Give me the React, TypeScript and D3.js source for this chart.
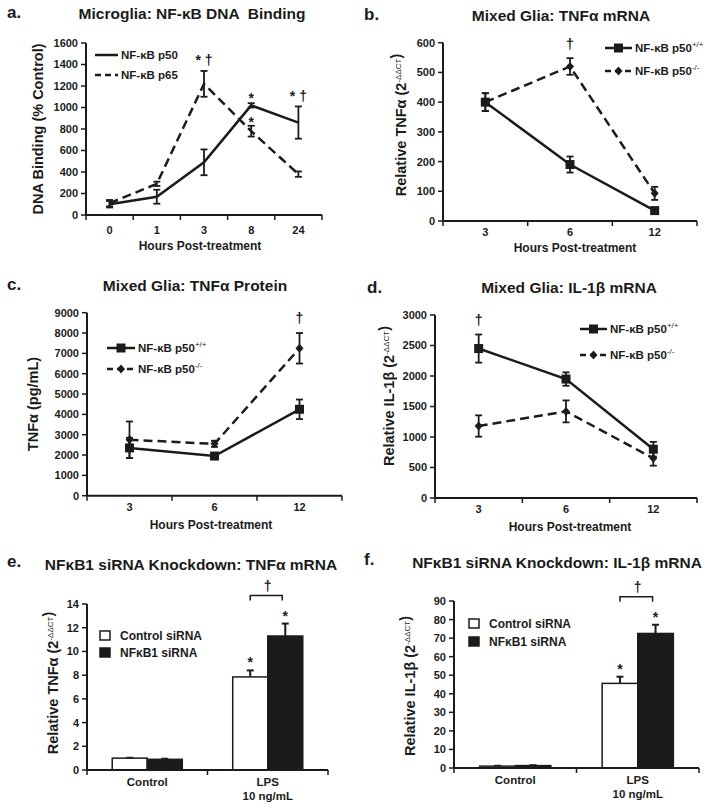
import React from "react";
import * as d3 from "d3";

const INK = "#1b1b1b";
const FONT = "'Liberation Sans', Arial, Helvetica, sans-serif";

// a. microglia NF-kB DNA binding (% control)
const hoursA = ["0", "1", "3", "8", "24"];
const p50Binding = [100, 170, 490, 1020, 860];
const p50BindingErr = [30, 65, 120, 20, 150];
const p65Binding = [110, 290, 1220, 780, 380];
const p65BindingErr = [30, 20, 120, 50, 25];

// b-d. mixed glia, p50+/+ vs p50-/-
const hoursB = ["3", "6", "12"];
const tnfMrnaWT = [400, 190, 35];
const tnfMrnaWTErr = [30, 27, 5];
const tnfMrnaKO = [400, 520, 93];
const tnfMrnaKOErr = [30, 28, 22];

const tnfProtWT = [2350, 1950, 4250];
const tnfProtWTErr = [500, 100, 480];
const tnfProtKO = [2750, 2550, 7250];
const tnfProtKOErr = [900, 150, 750];

const il1bWT = [2450, 1950, 800];
const il1bWTErr = [230, 110, 120];
const il1bKO = [1180, 1420, 650];
const il1bKOErr = [175, 180, 120];

// e-f. siRNA knockdown
const treatments = ["Control", "LPS"];
const siGroups = ["Control siRNA", "NFκB1 siRNA"];
const tnfSiCtrl = [1.0, 7.85];
const tnfSiCtrlErr = [0.03, 0.55];
const tnfSiKd = [0.9, 11.3];
const tnfSiKdErr = [0.05, 1.05];
const il1bSiCtrl = [1.0, 45.6];
const il1bSiCtrlErr = [0.2, 3.6];
const il1bSiKd = [1.3, 72.5];
const il1bSiKdErr = [0.2, 4.7];

const sup = (s) => (
  <>
    <tspan dy={-5} fontSize={8} fontWeight="normal">{s}</tspan>
    <tspan dy={5}>{""}</tspan>
  </>
);

function Marker({ kind, cx, cy }) {
  if (kind === "square") return <rect x={cx - 4.5} y={cy - 4.5} width={9} height={9} fill={INK} />;
  if (kind === "diamond")
    return <path d={`M${cx},${cy - 4.5}L${cx + 4},${cy}L${cx},${cy + 4.5}L${cx - 4},${cy}Z`} fill={INK} />;
  return null;
}

function YAxis({ y, x, step }) {
  const [lo, hi] = y.domain();
  const ticks = d3.range(lo, hi + step / 2, step);
  return (
    <g>
      <line x1={x} x2={x} y1={y(lo)} y2={y(hi)} stroke={INK} strokeWidth={2} />
      {ticks.map((t) => (
        <g key={t}>
          <line x1={x - 5} x2={x} y1={y(t)} y2={y(t)} stroke={INK} strokeWidth={1.5} />
          <text x={x - 8} y={y(t)} dy="0.36em" textAnchor="end" fontSize={11} fontWeight="bold">{t}</text>
        </g>
      ))}
    </g>
  );
}

function Heading({ p }) {
  return (
    <g>
      <text x={p.letterX} y={p.letterY} fontSize={17} fontWeight="bold">{p.letter}</text>
      <text x={p.titleX} y={p.titleY} fontSize={15.5} fontWeight="bold" textAnchor="middle" style={{ whiteSpace: "pre" }}>{p.title}</text>
      <text transform={`translate(${p.labelX},${p.labelY}) rotate(-90)`} textAnchor="middle" dy="0.35em" fontSize={14.5} fontWeight="bold">{p.yLabel}</text>
    </g>
  );
}

function LinePanel({ p }) {
  const x = d3.scaleBand().domain(p.cats).range([p.left, p.right]);
  const y = d3.scaleLinear().domain([0, p.yMax]).range([p.bottom, p.top]);
  const cx = (c) => x(c) + x.bandwidth() / 2;
  const line = d3.line().x((d) => cx(d[0])).y((d) => y(d[1]));
  const bounds = [...p.cats.map((c) => x(c)), p.right];
  return (
    <g>
      <Heading p={p} />
      <YAxis y={y} x={p.left} step={p.yStep} />
      <line x1={p.left} x2={p.right} y1={p.bottom} y2={p.bottom} stroke={INK} strokeWidth={2} />
      {bounds.map((b, i) => (
        <line key={i} x1={b} x2={b} y1={p.bottom} y2={p.bottom + 5} stroke={INK} strokeWidth={1.5} />
      ))}
      {p.cats.map((c) => (
        <text key={c} x={cx(c)} y={p.tickY} textAnchor="middle" fontSize={11} fontWeight="bold">{c}</text>
      ))}
      <text x={p.xTitleX} y={p.xTitleY} textAnchor="middle" fontSize={12} fontWeight="bold">Hours Post-treatment</text>
      {p.series.map((s, k) => (
        <g key={k}>
          <path d={line(p.cats.map((c, i) => [c, s.values[i]]))} fill="none" stroke={INK} strokeWidth={2.5}
            strokeDasharray={s.dashed ? "9,5" : null} />
          {p.cats.map((c, i) => {
            const top = y(s.values[i] + s.errs[i]);
            const bot = y(s.values[i] - s.errs[i]);
            return (
              <g key={c} stroke={INK} strokeWidth={1.8}>
                <line x1={cx(c)} x2={cx(c)} y1={top} y2={bot} />
                <line x1={cx(c) - 3.5} x2={cx(c) + 3.5} y1={top} y2={top} />
                <line x1={cx(c) - 3.5} x2={cx(c) + 3.5} y1={bot} y2={bot} />
              </g>
            );
          })}
          {p.cats.map((c, i) => <Marker key={c} kind={s.marker} cx={cx(c)} cy={y(s.values[i])} />)}
        </g>
      ))}
      {p.series.map((s, k) => {
        const ly = p.legY + k * p.legGap;
        return (
          <g key={k}>
            <line x1={p.legX} x2={p.legX + p.legLen} y1={ly} y2={ly} stroke={INK} strokeWidth={2.5}
              strokeDasharray={s.dashed ? "6,4" : null} />
            <Marker kind={s.marker} cx={p.legX + p.legLen / 2} cy={ly} />
            <text x={p.legX + p.legLen + 3} y={ly + 4} fontSize={11.5} fontWeight="bold">
              {s.label}{s.sup ? sup(s.sup) : null}
            </text>
          </g>
        );
      })}
      {p.notes.map((n, j) => {
        const s = p.series[n.s];
        return (
          <text key={j} x={cx(p.cats[n.i])} y={y(s.values[n.i] + s.errs[n.i]) + n.dy} textAnchor="middle"
            fontSize={14} fontWeight="bold" style={{ whiteSpace: "pre" }}>{n.text}</text>
        );
      })}
    </g>
  );
}

function BarPanel({ p }) {
  const x = d3.scaleBand().domain(treatments).range([p.left, p.right]);
  const inner = d3.scaleBand().domain(siGroups).range([0, x.bandwidth()]).paddingOuter(0.72);
  const y = d3.scaleLinear().domain([0, p.yMax]).range([p.bottom, p.top]);
  const groups = [
    { vals: p.ctrl, errs: p.ctrlErr, fill: "#fff" },
    { vals: p.kd, errs: p.kdErr, fill: INK },
  ];
  const bx = (gi, ti) => x(treatments[ti]) + inner(siGroups[gi]);
  const mid = (gi, ti) => bx(gi, ti) + inner.bandwidth() / 2;
  const last = treatments.length - 1;
  const bracketY = y(p.kd[last] + p.kdErr[last]) - 28;
  return (
    <g>
      <Heading p={p} />
      {groups.map((g, gi) =>
        treatments.map((t, ti) => {
          const tp = y(g.vals[ti] + g.errs[ti]);
          return (
            <g key={gi + t}>
              <line x1={mid(gi, ti)} x2={mid(gi, ti)} y1={y(g.vals[ti])} y2={tp} stroke={INK} strokeWidth={2} />
              <line x1={mid(gi, ti) - 3.5} x2={mid(gi, ti) + 3.5} y1={tp} y2={tp} stroke={INK} strokeWidth={2} />
              <rect x={bx(gi, ti)} y={y(g.vals[ti])} width={inner.bandwidth()} height={p.bottom - y(g.vals[ti])}
                fill={g.fill} stroke={INK} strokeWidth={1.5} />
            </g>
          );
        })
      )}
      <YAxis y={y} x={p.left} step={p.yStep} />
      <line x1={p.left} x2={p.right} y1={p.bottom} y2={p.bottom} stroke={INK} strokeWidth={2} />
      {[...treatments.map((t) => x(t)), p.right].map((b, i) => (
        <line key={i} x1={b} x2={b} y1={p.bottom} y2={p.bottom + 5} stroke={INK} strokeWidth={1.5} />
      ))}
      <text x={x("Control") + x.bandwidth() / 2} y={p.tickY} textAnchor="middle" fontSize={11.5} fontWeight="bold">Control</text>
      <text x={x("LPS") + x.bandwidth() / 2} y={p.tickY} textAnchor="middle" fontSize={11.5} fontWeight="bold">LPS</text>
      <text x={x("LPS") + x.bandwidth() / 2} y={p.tickY + 14} textAnchor="middle" fontSize={11.5} fontWeight="bold">10 ng/mL</text>
      {groups.map((g, gi) => (
        <text key={gi} x={mid(gi, last)} y={y(g.vals[last] + g.errs[last]) - 3} textAnchor="middle" fontSize={14} fontWeight="bold">*</text>
      ))}
      <path d={`M${mid(0, last)},${bracketY + 5}V${bracketY}H${mid(1, last) - 3}V${bracketY + 5}`} fill="none" stroke={INK} strokeWidth={1.5} />
      <text x={(mid(0, last) + mid(1, last)) / 2} y={bracketY - 5} textAnchor="middle" fontSize={14} fontWeight="bold">†</text>
      {groups.map((g, gi) => (
        <g key={gi}>
          <rect x={p.legX} y={p.legY + gi * p.legGap} width={10} height={9} fill={g.fill} stroke={INK} strokeWidth={1.5} />
          <text x={p.legX + 20} y={p.legY + gi * p.legGap + 9} fontSize={12} fontWeight="bold">{siGroups[gi]}</text>
        </g>
      ))}
    </g>
  );
}

const wtLabel = "NF-κB p50";
const panelA = {
  letter: "a.", letterX: 7, letterY: 18, title: "Microglia: NF-κB DNA  Binding", titleX: 192, titleY: 19,
  yLabel: "DNA Binding (% Control)", labelX: 38, labelY: 129,
  left: 86, right: 322, top: 43, bottom: 215, yMax: 1600, yStep: 200, cats: hoursA,
  tickY: 234, xTitleX: 200, xTitleY: 250,
  legX: 95, legLen: 23, legY: 55, legGap: 20,
  series: [
    { values: p50Binding, errs: p50BindingErr, dashed: false, marker: "none", label: "NF-κB p50" },
    { values: p65Binding, errs: p65BindingErr, dashed: true, marker: "none", label: "NF-κB p65" },
  ],
  notes: [
    { s: 1, i: 2, text: "* †", dy: -6 },
    { s: 0, i: 3, text: "*", dy: 0 },
    { s: 1, i: 3, text: "*", dy: 1 },
    { s: 0, i: 4, text: "* †", dy: -5 },
  ],
};

const ddct = "-ΔΔCT";
const panelB = {
  letter: "b.", letterX: 364, letterY: 20, title: "Mixed Glia: TNFα mRNA", titleX: 561, titleY: 21,
  yLabel: <>Relative TNFα (2{sup(ddct)})</>, labelX: 401, labelY: 125,
  left: 443, right: 697, top: 42.7, bottom: 221, yMax: 600, yStep: 100, cats: hoursB,
  tickY: 236, xTitleX: 575, xTitleY: 252,
  legX: 605, legLen: 27, legY: 48, legGap: 23,
  series: [
    { values: tnfMrnaWT, errs: tnfMrnaWTErr, dashed: false, marker: "square", label: wtLabel, sup: "+/+" },
    { values: tnfMrnaKO, errs: tnfMrnaKOErr, dashed: true, marker: "diamond", label: wtLabel, sup: "-/-" },
  ],
  notes: [{ s: 1, i: 1, text: "†", dy: -9 }],
};

const panelC = {
  letter: "c.", letterX: 7, letterY: 290, title: "Mixed Glia: TNFα Protein", titleX: 195, titleY: 291,
  yLabel: "TNFα (pg/mL)", labelX: 33, labelY: 404,
  left: 87, right: 342, top: 312.7, bottom: 495.7, yMax: 9000, yStep: 1000, cats: hoursB,
  tickY: 511, xTitleX: 211, xTitleY: 529,
  legX: 107, legLen: 28, legY: 348, legGap: 21,
  series: [
    { values: tnfProtWT, errs: tnfProtWTErr, dashed: false, marker: "square", label: wtLabel, sup: "+/+" },
    { values: tnfProtKO, errs: tnfProtKOErr, dashed: true, marker: "diamond", label: wtLabel, sup: "-/-" },
  ],
  notes: [{ s: 1, i: 2, text: "†", dy: -10 }],
};

const panelD = {
  letter: "d.", letterX: 367, letterY: 293, title: "Mixed Glia: IL-1β mRNA", titleX: 569, titleY: 293,
  yLabel: <>Relative IL-1β (2{sup(ddct)})</>, labelX: 389, labelY: 396,
  left: 435, right: 697, top: 315, bottom: 498, yMax: 3000, yStep: 500, cats: hoursB,
  tickY: 513, xTitleX: 570, xTitleY: 531,
  legX: 580, legLen: 27, legY: 329, legGap: 26,
  series: [
    { values: il1bWT, errs: il1bWTErr, dashed: false, marker: "square", label: wtLabel, sup: "+/+" },
    { values: il1bKO, errs: il1bKOErr, dashed: true, marker: "diamond", label: wtLabel, sup: "-/-" },
  ],
  notes: [{ s: 0, i: 0, text: "†", dy: -10 }],
};

const panelE = {
  letter: "e.", letterX: 7, letterY: 567, title: "NFκB1 siRNA Knockdown: TNFα mRNA", titleX: 191, titleY: 570,
  yLabel: <>Relative TNFα (2{sup(ddct)})</>, labelX: 53, labelY: 683,
  left: 87, right: 328, top: 604, bottom: 770, yMax: 14, yStep: 2, tickY: 786,
  ctrl: tnfSiCtrl, ctrlErr: tnfSiCtrlErr, kd: tnfSiKd, kdErr: tnfSiKdErr,
  legX: 100, legY: 631, legGap: 17,
};

const panelF = {
  letter: "f.", letterX: 364, letterY: 565, title: "NFκB1 siRNA Knockdown: IL-1β mRNA", titleX: 557, titleY: 568,
  yLabel: <>Relative IL-1β (2{sup(ddct)})</>, labelX: 410, labelY: 686,
  left: 454, right: 699, top: 601, bottom: 768, yMax: 90, yStep: 10, tickY: 784,
  ctrl: il1bSiCtrl, ctrlErr: il1bSiCtrlErr, kd: il1bSiKd, kdErr: il1bSiKdErr,
  legX: 469, legY: 619, legGap: 18,
};

export default function App() {
  return (
    <svg width={714} height={810} style={{ position: "absolute", left: 0, top: 0 }} fontFamily={FONT} fill={INK}>
      <rect width={714} height={810} fill="#fff" />
      <LinePanel p={panelA} />
      <LinePanel p={panelB} />
      <LinePanel p={panelC} />
      <LinePanel p={panelD} />
      <BarPanel p={panelE} />
      <BarPanel p={panelF} />
    </svg>
  );
}
